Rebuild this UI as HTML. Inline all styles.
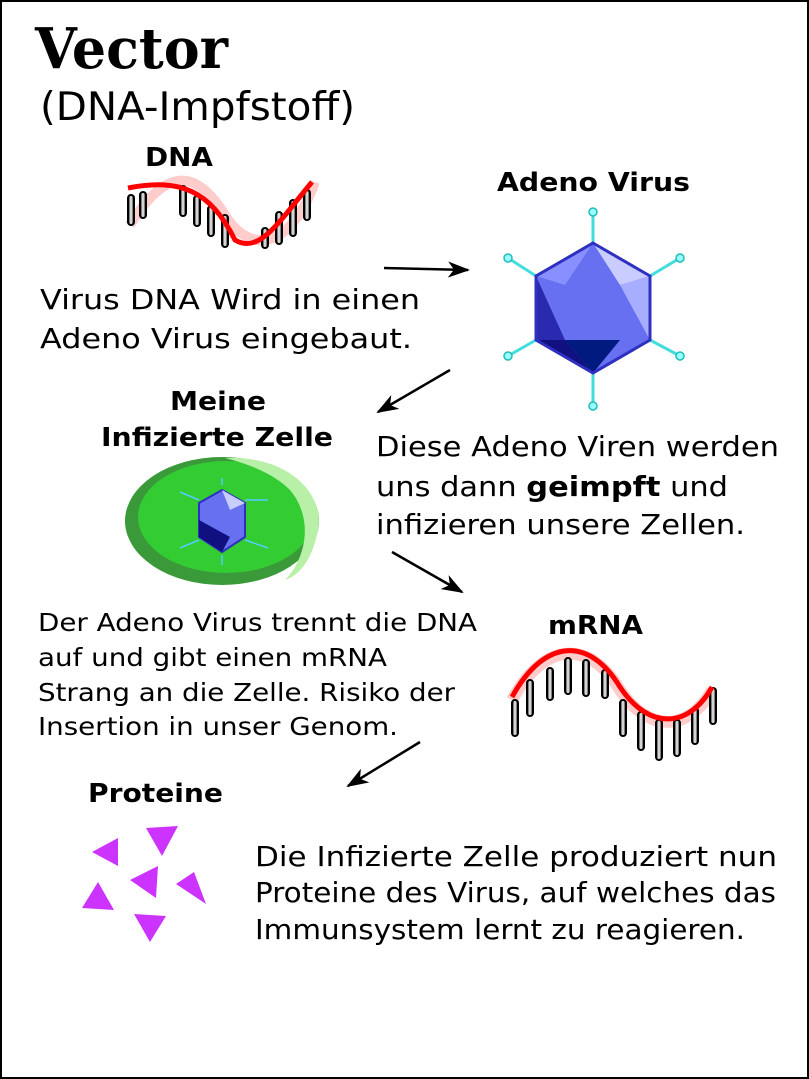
<!DOCTYPE html>
<html><head><meta charset="utf-8"><style>
html,body{margin:0;padding:0;background:#fff}
svg{display:block}
text{font-family:"DejaVu Sans","Liberation Sans",sans-serif;fill:#000}
</style></head><body>
<svg width="809" height="1079" viewBox="0 0 809 1079">
<defs>
<marker id="ah" markerWidth="22" markerHeight="16" refX="20" refY="8" orient="auto" markerUnits="userSpaceOnUse">
<path d="M0,0 L22,8 L0,16 L6,8 Z" fill="#000"/></marker>
<linearGradient id="rung" x1="0" x2="1"><stop offset="0" stop-color="#000"/><stop offset="0.5" stop-color="#fff"/><stop offset="1" stop-color="#000"/></linearGradient>
</defs>
<rect x="1" y="1" width="807" height="1077" fill="#fff" stroke="#000" stroke-width="2"/>
<text x="35" y="68" textLength="193" lengthAdjust="spacingAndGlyphs" style="font-family:'DejaVu Serif','Liberation Serif',serif;font-weight:bold;font-size:56px">Vector</text>
<text x="40" y="120" font-size="39" textLength="315" lengthAdjust="spacingAndGlyphs">(DNA-Impfstoff)</text>

<g>
<text x="145" y="166" font-size="26" font-weight="bold" textLength="68" lengthAdjust="spacingAndGlyphs">DNA</text>
<path d="M130,225 C170,160 200,175 225,215 C250,255 290,250 315,182" stroke="#fcc" stroke-width="10" fill="none"/>
<g fill="url(#rung)" stroke="#000" stroke-width="2">
<rect x="128" y="195" width="6" height="30" rx="3"/><rect x="140" y="192" width="6" height="26" rx="3"/>
<rect x="180" y="186" width="6" height="30" rx="3"/><rect x="194" y="196" width="6" height="30" rx="3"/>
<rect x="208" y="206" width="6" height="30" rx="3"/><rect x="222" y="215" width="6" height="32" rx="3"/>
<rect x="262" y="228" width="6" height="20" rx="3"/><rect x="276" y="212" width="6" height="32" rx="3"/>
<rect x="290" y="200" width="6" height="36" rx="3"/><rect x="304" y="190" width="6" height="30" rx="3"/>
</g>
<path d="M128,188 C180,178 210,190 235,240 C260,255 280,220 312,182" stroke="#f00" stroke-width="5" fill="none"/>
</g>

<line x1="384" y1="268" x2="468" y2="270" stroke="#000" stroke-width="2.5" marker-end="url(#ah)"/>

<text x="497" y="191" font-size="26" font-weight="bold" textLength="193" lengthAdjust="spacingAndGlyphs">Adeno Virus</text>
<g>
<g stroke="#4dd" stroke-width="3">
<line x1="593" y1="243" x2="593" y2="212"/><line x1="650" y1="276" x2="680" y2="258"/>
<line x1="650" y1="340" x2="680" y2="356"/><line x1="593" y1="373" x2="593" y2="406"/>
<line x1="536" y1="340" x2="508" y2="356"/><line x1="536" y1="276" x2="508" y2="258"/>
</g>
<g fill="#9ff" stroke="#2bb" stroke-width="1.5">
<circle cx="593" cy="212" r="4"/><circle cx="680" cy="258" r="4"/><circle cx="680" cy="356" r="4"/>
<circle cx="593" cy="406" r="4"/><circle cx="508" cy="356" r="4"/><circle cx="508" cy="258" r="4"/>
</g>
<polygon points="593,243 650,276 650,340 593,373 536,340 536,276" fill="#6670f0"/>
<polygon points="593,243 650,276 620,285" fill="#c8ccff"/>
<polygon points="650,276 650,340 620,285" fill="#a8aeff"/>
<polygon points="536,276 536,340 565,340" fill="#2a2ab0"/>
<polygon points="536,340 593,373 565,340" fill="#101080"/>
<polygon points="593,373 565,340 620,340" fill="#001a80"/>
<polygon points="593,243 536,276 565,285" fill="#8890ff"/>
<polygon points="593,243 650,276 650,340 593,373 536,340 536,276" fill="none" stroke="#3030c0" stroke-width="3"/>
</g>

<text x="40" y="309" font-size="28" textLength="380" lengthAdjust="spacingAndGlyphs">Virus DNA Wird in einen</text>
<text x="40" y="348" font-size="28" textLength="372" lengthAdjust="spacingAndGlyphs">Adeno Virus eingebaut.</text>

<line x1="450" y1="370" x2="378" y2="412" stroke="#000" stroke-width="2.5" marker-end="url(#ah)"/>

<text x="170" y="410" font-size="26" font-weight="bold" textLength="96" lengthAdjust="spacingAndGlyphs">Meine</text>
<text x="101" y="446" font-size="26" font-weight="bold" textLength="232" lengthAdjust="spacingAndGlyphs">Infizierte Zelle</text>
<g>
<ellipse cx="222" cy="521" rx="97" ry="64" fill="#3a9a3a"/>
<ellipse cx="226" cy="517" rx="88" ry="56" fill="#33cc33"/>
<path d="M225,458 C290,455 325,495 318,530 C312,560 300,575 285,580 C305,560 315,520 290,490 C270,470 240,462 225,458Z" fill="#b8f0a8"/>
<g stroke="#5cf" stroke-width="1.5">
<line x1="222" y1="485" x2="222" y2="478"/><line x1="245" y1="500" x2="268" y2="500"/>
<line x1="245" y1="540" x2="268" y2="548"/><line x1="222" y1="555" x2="222" y2="565"/>
<line x1="199" y1="540" x2="180" y2="548"/><line x1="199" y1="500" x2="180" y2="492"/>
</g>
<polygon points="222,490 245,503 245,537 222,552 199,537 199,503" fill="#6670f0" stroke="#3030c0" stroke-width="2"/>
<polygon points="222,490 245,503 230,510" fill="#c8ccff"/>
<polygon points="199,537 222,552 230,537 199,520" fill="#101080"/>
</g>

<text x="376" y="456" font-size="28" textLength="403" lengthAdjust="spacingAndGlyphs">Diese Adeno Viren werden</text>
<text x="376" y="496" font-size="28" textLength="352" lengthAdjust="spacingAndGlyphs">uns dann <tspan font-weight="bold">geimpft</tspan> und</text>
<text x="376" y="534" font-size="28" textLength="369" lengthAdjust="spacingAndGlyphs">infizieren unsere Zellen.</text>

<line x1="392" y1="552" x2="462" y2="592" stroke="#000" stroke-width="2.5" marker-end="url(#ah)"/>

<text x="38" y="631" font-size="25" textLength="439" lengthAdjust="spacingAndGlyphs">Der Adeno Virus trennt die DNA</text>
<text x="38" y="666" font-size="25" textLength="349" lengthAdjust="spacingAndGlyphs">auf und gibt einen mRNA</text>
<text x="38" y="701" font-size="25" textLength="417" lengthAdjust="spacingAndGlyphs">Strang an die Zelle. Risiko der</text>
<text x="38" y="735" font-size="25" textLength="360" lengthAdjust="spacingAndGlyphs">Insertion in unser Genom.</text>

<text x="548" y="634" font-size="26" font-weight="bold" textLength="95" lengthAdjust="spacingAndGlyphs">mRNA</text>
<g>
<path d="M512,700 C545,640 590,640 620,690 C650,735 690,730 712,690" stroke="#fcc" stroke-width="12" fill="none"/>
<g fill="url(#rung)" stroke="#000" stroke-width="2">
<rect x="512" y="700" width="6" height="36" rx="3"/><rect x="527" y="680" width="6" height="36" rx="3"/>
<rect x="547" y="668" width="6" height="32" rx="3"/><rect x="565" y="658" width="6" height="36" rx="3"/>
<rect x="583" y="660" width="6" height="36" rx="3"/><rect x="602" y="670" width="6" height="28" rx="3"/>
<rect x="620" y="700" width="6" height="36" rx="3"/><rect x="638" y="712" width="6" height="38" rx="3"/>
<rect x="656" y="720" width="6" height="40" rx="3"/><rect x="674" y="720" width="6" height="36" rx="3"/>
<rect x="692" y="708" width="6" height="36" rx="3"/><rect x="710" y="688" width="6" height="36" rx="3"/>
</g>
<path d="M512,697 C545,637 590,637 620,687 C650,732 690,727 712,687" stroke="#f00" stroke-width="5" fill="none"/>
</g>

<line x1="420" y1="742" x2="348" y2="786" stroke="#000" stroke-width="2.5" marker-end="url(#ah)"/>

<text x="88" y="802" font-size="26" font-weight="bold" textLength="135" lengthAdjust="spacingAndGlyphs">Proteine</text>
<g fill="#cc33ff">
<polygon points="92,852 118,838 118,866"/>
<polygon points="146,828 178,826 162,856"/>
<polygon points="130,880 158,866 156,898"/>
<polygon points="82,908 98,882 114,910"/>
<polygon points="176,884 194,872 206,904"/>
<polygon points="134,914 166,916 150,942"/>
</g>

<text x="255" y="866" font-size="28" textLength="522" lengthAdjust="spacingAndGlyphs">Die Infizierte Zelle produziert nun</text>
<text x="255" y="902" font-size="28" textLength="521" lengthAdjust="spacingAndGlyphs">Proteine des Virus, auf welches das</text>
<text x="255" y="939" font-size="28" textLength="490" lengthAdjust="spacingAndGlyphs">Immunsystem lernt zu reagieren.</text>
</svg>
</body></html>
